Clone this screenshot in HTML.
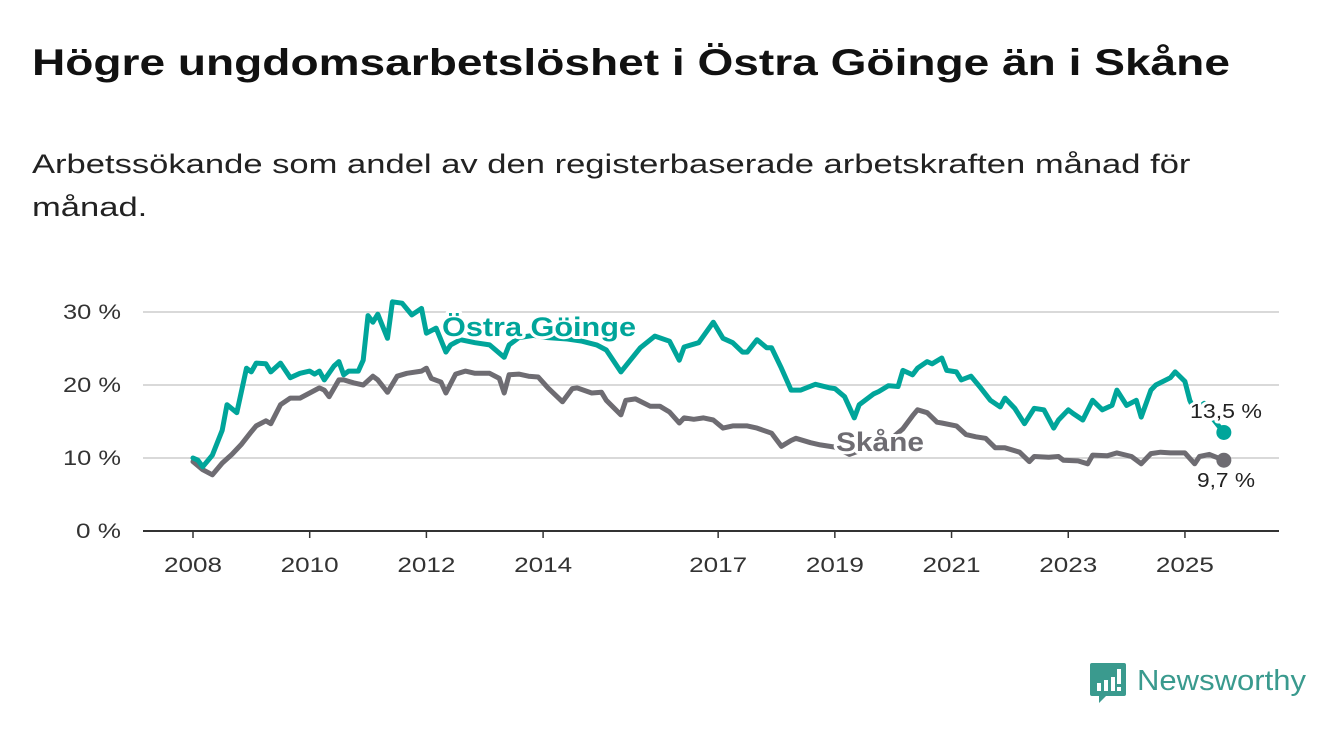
<!DOCTYPE html>
<html><head><meta charset="utf-8">
<style>
html,body{margin:0;padding:0;background:#fff;}
body{width:1340px;height:734px;overflow:hidden;position:relative;font-family:"Liberation Sans",sans-serif;color:#111;}
#title{position:absolute;left:32px;top:42px;font-size:37px;font-weight:bold;margin:0;color:#111;white-space:nowrap;transform:scaleX(1.245);transform-origin:left top;}
#subtitle{position:absolute;left:32px;top:143px;font-size:27px;line-height:43px;margin:0;color:#222;white-space:nowrap;transform:scaleX(1.28);transform-origin:left top;}
svg{position:absolute;left:0;top:0;}
</style></head>
<body>
<h1 id="title">Högre ungdomsarbetslöshet i Östra Göinge än i Skåne</h1>
<p id="subtitle">Arbetssökande som andel av den registerbaserade arbetskraften månad för<br>månad.</p>
<svg id="chart" width="1340" height="734"></svg>
<script>
const yTicks=[0,10,20,30];
const yTickLabels=["0 %","10 %","20 %","30 %"];
const xTickYears=[2008,2010,2012,2014,2017,2019,2021,2023,2025];
const goingeMonths=[0,1,2,4,6,7,9,11,12,13,15,16,18,20,22,24,25,26,27,29,30,31,32,34,35,36,37,38,40,41,43,45,47,48,50,52,53,55,58,61,64,65,67,70,73,77,80,83,85,88,92,95,98,100,101,104,107,109,111,113,114,116,118,119,121,123,125,128,131,132,134,136,137,140,141,143,145,146,148,149,151,152,154,155,157,158,160,162,164,166,167,169,171,173,175,177,178,180,181,183,185,187,189,190,192,194,195,197,198,201,202,204,205,206,208,209,212];
const goingeValues=[10.0,9.7,8.8,10.4,13.8,17.3,16.2,22.3,21.8,23,22.9,21.8,23,21,21.6,21.9,21.5,21.9,20.7,22.6,23.2,21.4,21.9,21.9,23.4,29.5,28.6,29.7,26.4,31.4,31.2,29.6,30.5,27.1,27.8,24.5,25.5,26.2,25.8,25.5,23.8,25.5,26.5,26.8,26.5,26.3,26,25.5,24.8,21.8,25.1,26.7,26,23.4,25.2,25.8,28.6,26.4,25.8,24.5,24.5,26.2,25.1,25.1,22.3,19.3,19.3,20.1,19.6,19.5,18.4,15.5,17.3,18.8,19.1,19.9,19.8,22,21.4,22.3,23.2,22.9,23.7,22,21.8,20.7,21.2,19.6,17.9,17,18.2,16.8,14.7,16.8,16.6,14.1,15.2,16.6,16.1,15.2,17.9,16.6,17.2,19.3,17.2,17.9,15.6,19.3,20,21,21.8,20.5,17.9,16.5,17.5,16,13.5];
const skaneMonths=[0,2,4,6,8,10,12,13,15,16,18,20,22,24,26,27,28,30,31,33,35,37,38,40,42,44,47,48,49,51,52,54,56,58,61,63,64,65,67,69,71,73,76,78,79,82,84,85,88,89,91,94,96,98,100,101,103,105,107,109,111,114,116,119,121,123,124,127,129,132,135,139,143,146,148,149,151,153,154,157,159,161,163,165,167,170,172,173,176,178,179,182,184,185,188,190,193,195,197,199,201,204,206,207,209,212];
const skaneValues=[9.5,8.4,7.7,9.3,10.5,11.9,13.6,14.4,15.1,14.7,17.3,18.2,18.2,18.9,19.6,19.3,18.4,20.7,20.7,20.3,20,21.2,20.7,19,21.2,21.6,21.9,22.3,20.9,20.4,18.9,21.5,21.9,21.6,21.6,20.9,18.9,21.4,21.5,21.2,21.1,19.6,17.7,19.5,19.6,18.9,19,17.9,15.9,17.9,18.1,17.1,17.1,16.3,14.8,15.5,15.3,15.5,15.2,14.1,14.4,14.4,14.1,13.4,11.6,12.4,12.7,12.1,11.8,11.5,10.5,11.5,12.3,14,15.8,16.6,16.2,14.9,14.8,14.4,13.2,12.9,12.7,11.4,11.4,10.8,9.5,10.2,10.1,10.2,9.7,9.6,9.2,10.4,10.3,10.7,10.2,9.2,10.6,10.8,10.7,10.7,9.2,10.2,10.5,9.7];

const NS="http://www.w3.org/2000/svg";
const svg=document.getElementById('chart');
const X0=143,X1=1279;
const xM=m=>193+m*4.8625;
const xY=y=>xM((y-2008)*12);
const yV=v=>531-v*7.3;
function mk(tag,attrs,parent){const e=document.createElementNS(NS,tag);for(const k in attrs)e.setAttribute(k,attrs[k]);(parent||svg).appendChild(e);return e;}

yTicks.forEach((t,i)=>{
  if(t>0){const g=mk('line',{x1:X0,x2:X1,y1:yV(t),y2:yV(t),stroke:'#d9d9d9','stroke-width':2});
  
  }
  const l=mk('text',{x:121,y:yV(t)+7,'text-anchor':'end','font-size':21,fill:'#333',textLength:t>0?58:45,lengthAdjust:'spacingAndGlyphs'});
  l.textContent=yTickLabels[i];
  
  
});
const ax=mk('line',{x1:X0,x2:X1,y1:531,y2:531,stroke:'#333','stroke-width':2});


xTickYears.forEach(yr=>{
  const tk=mk('line',{x1:xY(yr),x2:xY(yr),y1:531,y2:538,stroke:'#333','stroke-width':1.5});
  
  
  const l=mk('text',{x:xY(yr),y:572,'text-anchor':'middle','font-size':21,fill:'#333',textLength:58,lengthAdjust:'spacingAndGlyphs'});
  l.textContent=yr;
  
  
});
function line(ms,vs,color,name){
  const d=ms.map((m,i)=>(i?'L':'M')+xM(m).toFixed(1)+','+yV(vs[i]).toFixed(1)).join('');
  const p=mk('path',{d:d,fill:'none',stroke:color,'stroke-width':5,'stroke-linejoin':'round','stroke-linecap':'round'});
  
  
  const n=ms.length-1;
  const c=mk('circle',{cx:xM(ms[n]),cy:yV(vs[n]),r:7.5,fill:color});
  
  
}
line(skaneMonths,skaneValues,'#6e6c72','skane');
line(goingeMonths,goingeValues,'#00a59a','goinge');
function label(txt,x,y,size,color,bold,name,anchor,len){
  const t=mk('text',{x:x,y:y,'font-size':size,fill:color,'font-weight':bold?'bold':'normal',stroke:'#fff','stroke-width':6,'paint-order':'stroke','stroke-linejoin':'round','text-anchor':anchor||'start',textLength:len,lengthAdjust:'spacingAndGlyphs'});
  t.textContent=txt;
  
  
}
label('Östra Göinge',442,336,27,'#00a59a',true,'goinge-series-label','start',194);
label('Skåne',836,451,27,'#6e6c72',true,'skane-series-label','start',88);
const gn=goingeValues.length-1, sn=skaneValues.length-1;
label(goingeValues[gn].toFixed(1).replace('.',',')+' %',1226,418,20,'#222',false,'goinge-end-value','middle',72);
label(skaneValues[sn].toFixed(1).replace('.',',')+' %',1226,487,20,'#222',false,'skane-end-value','middle',58);

// logo
const lg=mk('g',{});


mk('path',{d:'M1092,663 h32 a2,2 0 0 1 2,2 v29 a2,2 0 0 1 -2,2 h-18 l-7,7 v-7 h-7 a2,2 0 0 1 -2,-2 v-29 a2,2 0 0 1 2,-2z',fill:'#3a9a8e'},lg);
mk('rect',{x:1097,y:683,width:4,height:8,fill:'#fff'},lg);
mk('rect',{x:1104,y:680,width:4,height:11,fill:'#fff'},lg);
mk('rect',{x:1111,y:677,width:4,height:14,fill:'#fff'},lg);
mk('rect',{x:1117,y:669,width:4,height:15,fill:'#fff'},lg);
mk('rect',{x:1117,y:687,width:4,height:4,fill:'#fff'},lg);
const lt=mk('text',{x:1137,y:690,'font-size':29,fill:'#3a9a8e',textLength:169,lengthAdjust:'spacingAndGlyphs'},lg);
lt.textContent='Newsworthy';
</script>
</body></html>
